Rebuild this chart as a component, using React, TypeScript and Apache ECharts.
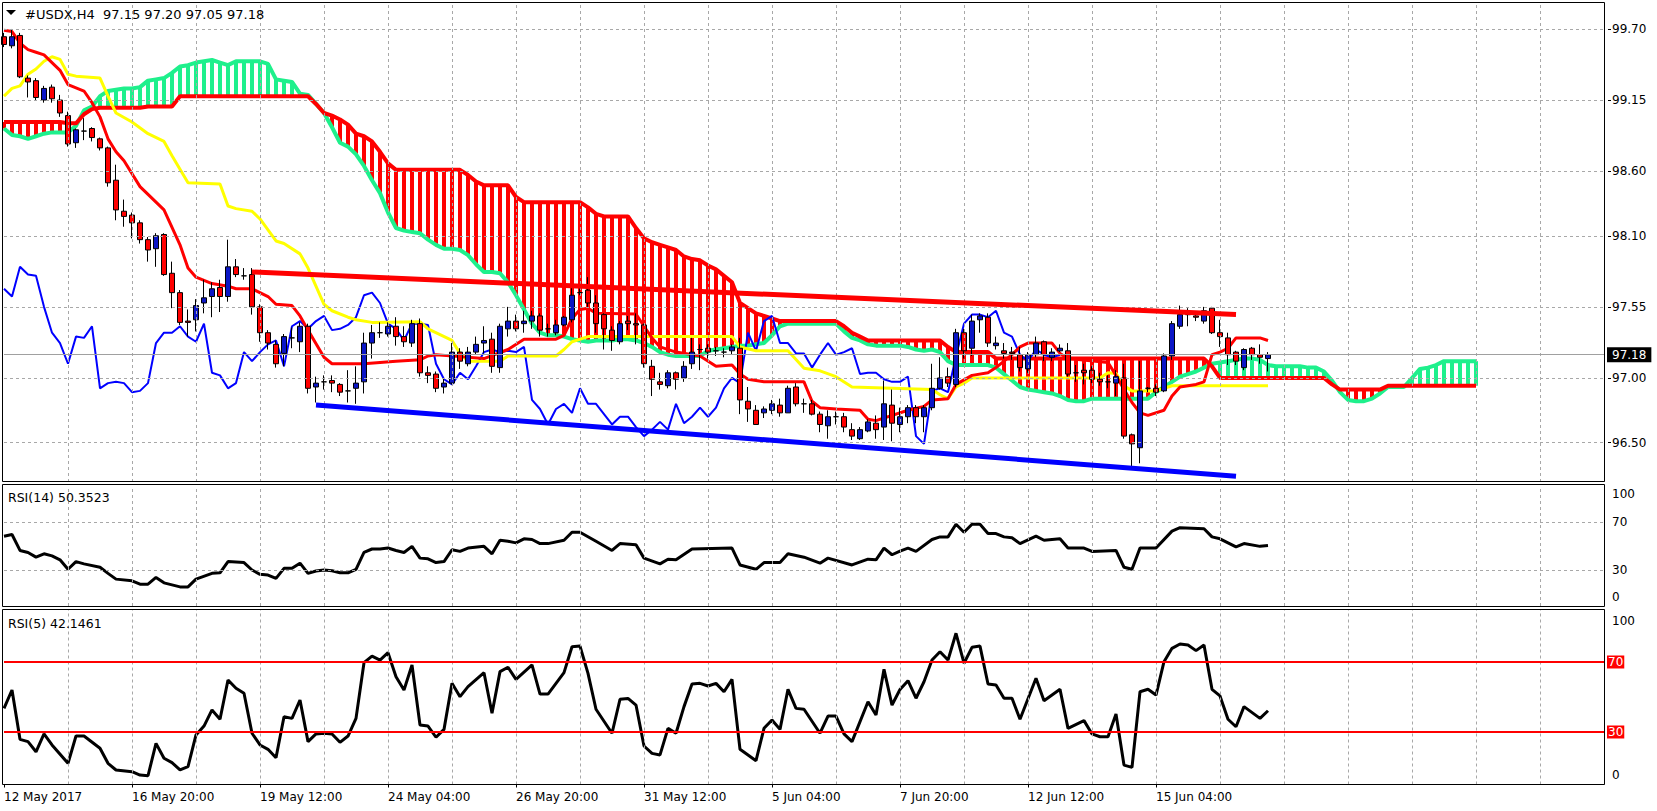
import React, { useEffect, useRef } from 'react';
import * as echarts from 'echarts';

const FONT = 'DejaVu Sans';
const RED = '#ff0000';
const GREEN = '#1ef08c';
const YELLOW = '#ffff00';
const BLUE = '#0000ff';
const CANDLE_UP = '#0b16c6';

const header = '#USDX,H4  97.15 97.20 97.05 97.18';
const rsi14Title = 'RSI(14) 50.3523';
const rsi5Title = 'RSI(5) 42.1461';
const lastPrice = 97.18;

const xTickLabels = ['12 May 2017', '16 May 20:00', '19 May 12:00', '24 May 04:00', '26 May 20:00', '31 May 12:00', '5 Jun 04:00', '7 Jun 20:00', '12 Jun 12:00', '15 Jun 04:00'];
const priceTicks = [99.7, 99.15, 98.6, 98.1, 97.55, 97.0, 96.5];
const rsiLevels = [70, 30];

const opens = [99.64,99.57,99.65,99.32,99.30,99.15,99.25,99.15,99.03,98.82,
 98.91,98.93,98.85,98.78,98.53,98.29,98.26,98.20,98.07,98.00,
 98.11,97.81,97.66,97.44,97.45,97.58,97.63,97.70,97.63,97.86,
 97.79,97.80,97.55,97.35,97.26,97.19,97.31,97.28,97.40,96.93,
 96.97,96.98,96.95,96.90,96.92,96.97,97.27,97.35,97.34,97.40,
 97.32,97.27,97.42,97.04,97.03,96.93,96.96,97.20,97.11,97.20,
 97.27,97.30,97.08,97.38,97.44,97.42,97.44,97.48,97.38,97.35,
 97.41,97.45,97.66,97.68,97.58,97.49,97.37,97.28,97.44,97.42,
 97.41,97.09,96.97,96.94,97.04,97.00,97.11,97.22,97.23,97.21,
 97.20,97.21,97.23,96.82,96.75,96.73,96.75,96.79,96.73,96.93,
 96.80,96.80,96.72,96.63,96.70,96.70,96.60,96.53,96.59,96.65,
 96.62,96.79,96.64,96.70,96.77,96.70,96.77,96.92,97.01,96.95,
 97.35,97.23,97.45,97.47,97.25,97.21,97.20,97.18,97.07,97.18,
 97.28,97.16,97.21,97.21,97.04,97.06,97.06,96.99,96.97,96.96,
 97.00,96.56,96.46,96.92,96.92,96.90,97.17,97.40,97.49,97.48,
 97.44,97.54,97.35,97.31,97.20,97.08,97.23,97.18,97.15];

const closes = [99.58,99.64,99.33,99.29,99.17,99.24,99.16,99.05,98.81,98.92,
 98.91,98.86,98.78,98.51,98.30,98.25,98.20,98.07,97.99,98.10,
 97.80,97.66,97.43,97.43,97.56,97.62,97.69,97.63,97.86,97.80,
 97.79,97.55,97.35,97.27,97.11,97.32,97.31,97.40,96.92,96.96,
 96.97,96.96,96.89,96.90,96.96,97.27,97.35,97.35,97.40,97.32,
 97.28,97.42,97.04,97.02,96.92,96.96,97.20,97.13,97.20,97.26,
 97.29,97.09,97.40,97.44,97.38,97.44,97.48,97.37,97.38,97.41,
 97.47,97.64,97.66,97.58,97.42,97.38,97.29,97.42,97.42,97.41,
 97.11,96.99,96.95,97.04,96.99,97.09,97.20,97.22,97.20,97.21,
 97.20,97.24,96.83,96.76,96.64,96.76,96.80,96.73,96.92,96.80,
 96.80,96.72,96.64,96.70,96.70,96.62,96.55,96.60,96.66,96.60,
 96.80,96.65,96.70,96.77,96.70,96.77,96.92,97.00,96.96,97.35,
 97.21,97.44,97.48,97.27,97.27,97.19,97.19,97.08,97.18,97.27,
 97.18,97.20,97.23,97.03,97.04,97.04,96.99,96.97,96.97,97.01,
 96.55,96.49,96.90,96.92,96.89,97.17,97.42,97.49,97.49,97.47,
 97.52,97.35,97.32,97.18,97.13,97.22,97.18,97.16,97.18];

const lows = [99.56,99.55,99.32,99.17,99.15,99.13,99.13,99.02,98.79,98.78,
 98.84,98.83,98.76,98.48,98.22,98.17,98.08,98.04,97.90,97.86,
 97.79,97.54,97.41,97.32,97.36,97.50,97.47,97.51,97.59,97.78,
 97.76,97.49,97.28,97.22,97.08,97.09,97.23,97.20,96.88,96.81,
 96.91,96.89,96.86,96.81,96.80,96.88,97.15,97.31,97.32,97.25,
 97.24,97.24,97.01,96.96,96.89,96.88,96.95,97.07,97.09,97.18,
 97.19,97.04,97.04,97.32,97.36,97.35,97.38,97.32,97.32,97.33,
 97.40,97.43,97.64,97.55,97.35,97.22,97.21,97.26,97.37,97.26,
 97.08,96.86,96.91,96.92,96.91,96.97,97.07,97.06,97.15,97.17,
 97.16,97.18,96.72,96.66,96.64,96.69,96.72,96.70,96.73,96.78,
 96.73,96.71,96.58,96.53,96.64,96.58,96.52,96.52,96.58,96.53,
 96.52,96.51,96.58,96.65,96.65,96.58,96.75,96.91,96.93,96.93,
 97.15,97.17,97.35,97.24,97.22,97.15,97.14,97.05,97.04,97.16,
 97.13,97.13,97.20,97.01,96.97,96.95,96.96,96.94,96.92,96.86,
 96.53,96.31,96.34,96.89,96.86,96.89,97.14,97.38,97.40,97.44,
 97.42,97.34,97.24,97.10,97.10,97.06,97.14,97.11,97.05];

const highs = [99.67,99.70,99.67,99.34,99.32,99.26,99.27,99.19,99.06,98.93,
 99.01,98.94,98.86,98.79,98.65,98.38,98.28,98.22,98.09,98.12,
 98.12,97.90,97.68,97.53,97.61,97.76,97.74,97.76,98.07,97.92,
 97.85,97.85,97.57,97.37,97.29,97.34,97.39,97.43,97.42,97.01,
 97.02,97.02,96.96,97.06,97.09,97.35,97.41,97.43,97.43,97.47,
 97.40,97.45,97.46,97.09,97.05,97.00,97.27,97.23,97.24,97.32,
 97.40,97.35,97.42,97.55,97.49,97.52,97.52,97.50,97.42,97.45,
 97.48,97.71,97.72,97.78,97.64,97.50,97.40,97.44,97.48,97.50,
 97.42,97.14,97.04,97.06,97.05,97.13,97.31,97.26,97.26,97.24,
 97.23,97.26,97.31,96.93,96.79,96.78,96.83,96.84,96.94,96.96,
 96.84,96.83,96.74,96.75,96.74,96.73,96.65,96.62,96.68,96.71,
 96.98,96.91,96.77,96.79,96.79,96.79,97.11,97.16,97.08,97.38,
 97.38,97.49,97.50,97.50,97.32,97.27,97.24,97.24,97.20,97.32,
 97.29,97.23,97.26,97.27,97.10,97.11,97.09,97.04,97.02,97.06,
 97.11,96.57,97.13,96.93,96.95,97.19,97.44,97.56,97.54,97.50,
 97.55,97.55,97.45,97.35,97.21,97.23,97.24,97.26,97.20];

// Ichimoku cloud lines, one value per bar (bars 0..184)
const spanRed = [98.98,98.98,98.98,98.98,98.98,98.98,98.98,98.98,98.97,98.97,
 99.04,99.08,99.09,99.09,99.09,99.09,99.09,99.09,99.10,99.10,
 99.10,99.10,99.18,99.18,99.18,99.18,99.18,99.18,99.18,99.18,
 99.18,99.18,99.18,99.18,99.18,99.18,99.18,99.18,99.18,99.12,
 99.05,99.03,99.00,98.96,98.89,98.87,98.83,98.75,98.66,98.61,
 98.61,98.61,98.61,98.61,98.61,98.61,98.61,98.61,98.57,98.52,
 98.49,98.49,98.49,98.49,98.40,98.36,98.36,98.36,98.36,98.36,
 98.36,98.36,98.36,98.32,98.27,98.25,98.25,98.25,98.25,98.16,
 98.08,98.05,98.03,98.01,97.99,97.94,97.92,97.91,97.87,97.84,
 97.79,97.74,97.58,97.54,97.50,97.48,97.46,97.44,97.44,97.44,
 97.44,97.44,97.44,97.44,97.44,97.40,97.35,97.32,97.29,97.29,
 97.29,97.29,97.29,97.29,97.29,97.29,97.29,97.29,97.24,97.20,
 97.20,97.20,97.20,97.20,97.15,97.15,97.15,97.15,97.15,97.15,
 97.15,97.15,97.15,97.15,97.15,97.15,97.15,97.15,97.15,97.15,
 97.15,97.15,97.15,97.15,97.15,97.15,97.15,97.15,97.15,97.15,
 97.15,97.09,97.00,97.00,97.00,97.00,97.00,97.00,97.00,97.00,
 97.00,97.00,97.00,97.00,97.00,97.00,96.95,96.91,96.91,96.91,
 96.91,96.91,96.91,96.94,96.94,96.94,96.94,96.94,96.94,96.94,
 96.94,96.94,96.94,96.94,96.94];

const spanGreen = [98.93,98.88,98.87,98.85,98.87,98.89,98.90,98.90,98.90,98.95,
 99.07,99.10,99.18,99.22,99.23,99.24,99.24,99.25,99.30,99.31,
 99.32,99.36,99.41,99.42,99.44,99.45,99.46,99.44,99.42,99.45,
 99.45,99.45,99.45,99.43,99.31,99.30,99.29,99.20,99.19,99.12,
 99.05,98.94,98.82,98.79,98.73,98.64,98.53,98.43,98.28,98.16,
 98.14,98.13,98.12,98.07,98.03,98.00,98.00,97.99,97.95,97.88,
 97.82,97.82,97.81,97.74,97.64,97.53,97.42,97.35,97.33,97.33,
 97.32,97.30,97.29,97.28,97.29,97.29,97.29,97.30,97.30,97.29,
 97.27,97.24,97.20,97.18,97.17,97.17,97.17,97.17,97.21,97.22,
 97.23,97.24,97.25,97.25,97.26,97.27,97.33,97.40,97.42,97.42,
 97.42,97.42,97.42,97.42,97.42,97.36,97.31,97.29,97.26,97.25,
 97.25,97.25,97.25,97.24,97.22,97.21,97.22,97.20,97.13,97.10,
 97.10,97.10,97.10,97.10,97.08,97.03,96.98,96.93,96.91,96.90,
 96.89,96.88,96.86,96.83,96.82,96.82,96.84,96.84,96.84,96.84,
 96.84,96.84,96.84,96.84,96.89,96.93,96.97,97.01,97.03,97.05,
 97.08,97.11,97.12,97.13,97.14,97.15,97.15,97.14,97.10,97.09,
 97.09,97.09,97.09,97.08,97.08,97.05,96.98,96.89,96.83,96.82,
 96.82,96.84,96.88,96.93,96.93,96.93,97.00,97.07,97.08,97.10,
 97.13,97.13,97.13,97.13,97.13];

const tenkan = [[0,99.69],[1,99.68],[2,99.59],[3,99.54],[4,99.52],[5,99.50],[7,99.38],[8,99.27],[10,99.22],[11,99.13],
 [12,99.02],[13,98.85],[14,98.75],[15,98.68],[17,98.48],[20,98.30],[22,98.03],[23,97.85],[24,97.78],[26,97.73],
 [28,97.71],[29,97.69],[31,97.69],[33,97.63],[34,97.57],[36,97.56],[37,97.48],[38,97.37],[40,97.16],[41,97.11],
 [45,97.11],[49,97.13],[52,97.14],[53,97.17],[54,97.18],[57,97.165],[60,97.15],[63,97.22],[65,97.30],[69,97.30],
 [70,97.33],[71,97.46],[72,97.53],[73,97.54],[74,97.50],[79,97.495],[80,97.40],[81,97.31],[82,97.24],[84,97.20],
 [87,97.17],[89,97.09],[91,97.10],[92,97.03],[93,96.99],[95,96.97],[100,96.97],[101,96.82],[102,96.77],[104,96.76],
 [107,96.75],[108,96.68],[109,96.67],[113,96.75],[115,96.78],[116,96.83],[118,96.84],[119,96.95],[121,97.02],[123,97.04],
 [124,97.08],[126,97.18],[127,97.24],[128,97.27],[131,97.27],[132,97.19],[133,97.15],[138,97.12],[139,97.02],[140,96.91],
 [141,96.81],[142,96.73],[143,96.71],[145,96.75],[146,96.86],[147,96.93],[149,96.95],[150,96.97],[151,97.18],[152,97.20],
 [153,97.23],[154,97.31],[157,97.31],[158,97.29]];

const kijun = [[0,99.18],[1,99.24],[2,99.26],[3,99.35],[4,99.39],[5,99.45],[6,99.485],[7,99.465],[8,99.35],[9,99.335],
 [12,99.32],[13,99.18],[14,99.05],[16,98.98],[18,98.89],[20,98.83],[21,98.72],[23,98.51],[27,98.50],[28,98.33],
 [29,98.31],[31,98.29],[32,98.23],[34,98.06],[35,98.04],[37,97.96],[38,97.85],[40,97.57],[41,97.52],[43,97.47],
 [44,97.45],[46,97.43],[52,97.435],[53,97.38],[56,97.29],[57,97.19],[58,97.13],[62,97.13],[63,97.17],[69,97.17],
 [70,97.22],[71,97.28],[73,97.32],[91,97.32],[92,97.24],[94,97.21],[98,97.21],[100,97.075],[102,97.055],[104,97.01],
 [106,96.93],[116,96.91],[117,96.87],[118,96.84],[119,96.93],[120,96.96],[121,97.00],[137,97.00],[138,97.04],[139,97.035],
 [140,96.94],[141,96.90],[144,96.90],[146,96.94],[158,96.94]];

const chikouShift = 26;
const resistanceLine = [[31, 97.82], [154, 97.49]];
const supportLine = [[39, 96.79], [154, 96.24]];

const rsi14 = [[0,58.2],[1,59.6],[2,46.3],[3,44.6],[4,40.7],[5,43.5],[6,41.8],[7,38.5],[8,30.6],[9,37.0],
 [10,35.1],[12,32.3],[13,27.2],[14,22.4],[16,21.0],[17,18.2],[18,18.2],[19,23.8],[20,19.3],[22,15.9],
 [23,15.9],[24,22.4],[26,27.2],[27,27.7],[28,37.0],[30,36.2],[31,30.0],[32,26.4],[33,25.8],[34,23.0],
 [35,31.4],[36,31.4],[37,35.7],[38,27.2],[39,29.2],[40,30.0],[41,29.4],[42,27.7],[43,27.7],[44,30.6],
 [45,44.6],[46,47.5],[47,47.5],[48,48.3],[49,46.3],[50,44.6],[51,49.7],[52,39.9],[53,39.3],[54,36.2],
 [55,37.0],[56,46.9],[57,45.5],[58,48.3],[60,49.7],[61,43.5],[62,54.8],[63,53.9],[64,52.6],[65,56.0],
 [66,55.4],[67,52.0],[68,52.0],[70,54.8],[71,61.5],[72,61.5],[74,53.9],[76,46.3],[77,52.0],[79,51.1],
 [80,39.9],[82,35.1],[83,39.0],[84,38.5],[86,47.5],[91,48.3],[92,34.2],[94,30.6],[95,36.2],[97,36.2],
 [98,43.5],[100,40.7],[102,35.7],[103,39.9],[106,34.2],[108,39.0],[109,38.5],[110,48.3],[111,42.7],[112,45.8],
 [113,48.3],[114,45.5],[116,55.4],[117,57.6],[118,57.6],[119,68.1],[120,61.5],[121,68.1],[122,68.1],[123,60.4],
 [124,60.4],[125,57.6],[126,56.8],[127,52.0],[129,58.2],[130,54.8],[132,56.0],[133,48.3],[135,48.3],[136,45.5],
 [139,46.3],[140,32.3],[141,30.6],[142,48.3],[144,48.3],[146,62.4],[147,65.3],[150,64.4],[151,57.6],[152,56.0],
 [154,49.2],[155,52.0],[157,49.7],[158,50.35]];

const rsi5 = [[0,43.5],[1,54.0],[2,25.8],[3,24.5],[4,18.7],[5,28.9],[6,22.6],[8,12.1],[9,27.7],[10,27.7],
 [12,20.7],[13,12.1],[14,8.3],[16,7.3],[17,5.4],[18,5.0],[19,23.5],[20,15.0],[21,12.5],[22,8.3],
 [23,10.2],[24,28.3],[25,33.4],[26,42.6],[27,37.3],[28,59.7],[29,55.0],[30,52.1],[31,29.3],[32,22.6],
 [33,20.1],[34,15.3],[35,38.7],[36,37.8],[37,48.3],[38,24.5],[39,28.9],[40,29.3],[41,28.9],[42,24.1],
 [43,27.7],[44,37.8],[45,69.6],[46,73.4],[47,71.1],[48,75.3],[49,61.6],[50,54.0],[51,68.3],[52,34.0],
 [53,33.4],[54,27.0],[55,31.5],[56,57.8],[57,50.2],[58,55.9],[60,63.9],[61,40.7],[62,64.5],[63,67.0],
 [64,60.1],[66,68.3],[67,51.7],[68,51.7],[70,63.9],[71,78.7],[72,79.1],[73,63.5],[74,43.0],[76,29.3],
 [77,48.7],[78,49.2],[79,45.4],[80,22.0],[81,17.8],[82,16.9],[83,32.1],[84,29.3],[85,44.5],[86,57.4],
 [87,57.8],[88,56.3],[89,57.8],[90,53.0],[91,60.1],[92,20.1],[94,13.6],[95,32.1],[96,36.9],[97,31.5],
 [98,54.4],[99,43.5],[100,43.0],[102,29.3],[103,39.1],[104,39.1],[105,28.9],[106,24.5],[108,47.3],[109,39.7],
 [110,65.8],[111,45.4],[112,54.3],[113,59.3],[114,49.3],[115,58.7],[116,71.1],[117,75.9],[118,71.1],[119,86.4],
 [120,69.3],[121,78.4],[122,79.1],[123,57.4],[124,56.9],[125,49.3],[126,49.3],[127,37.3],[129,60.7],[130,47.9],
 [132,54.4],[133,32.1],[135,36.5],[136,28.9],[137,27.3],[138,27.3],[139,40.3],[140,11.1],[141,9.8],[142,53.0],
 [143,54.4],[144,51.1],[145,70.2],[146,77.8],[147,80.3],[148,79.7],[149,76.5],[150,79.7],[151,54.4],[152,50.6],
 [153,37.3],[154,33.0],[155,44.5],[157,37.8],[158,42.15]];

// layout helpers (not data)
const SLOT_COUNT = 201;
const slots = Array.from({ length: SLOT_COUNT }, (_, i) => String(i));
const LABEL_EVERY = 16;
const GRID_EVERY = 8;
const vGrid = slots.filter((s, i) => i > 0 && i % GRID_EVERY === 0);
const LAST_SLOT = slots[SLOT_COUNT - 1];

const txt = { fontFamily: FONT, fontSize: 12, color: '#000' };
const dash = { color: '#a8a8a8', type: [3, 3], width: 1 };
const hPair = (v: number, extra: any = {}) => [{ coord: ['0', v], ...extra }, { coord: [LAST_SLOT, v] }];

function buildOption(): any {
  const xBase = (k: number) => ({
    type: 'category', gridIndex: k, data: slots, boundaryGap: true,
    axisLine: { show: false }, axisTick: { show: false }, axisLabel: { show: false }, splitLine: { show: false },
  });
  const xBottom = {
    ...xBase(2),
    axisTick: {
      show: true, alignWithLabel: true, length: 3, lineStyle: { color: '#000' },
      interval: (i: number) => i % LABEL_EVERY === 0 && i / LABEL_EVERY < xTickLabels.length,
    },
    axisLabel: {
      show: true, ...txt, align: 'left', margin: 6,
      interval: (i: number) => i % LABEL_EVERY === 0 && i / LABEL_EVERY < xTickLabels.length,
      formatter: (_v: string, i: number) => xTickLabels[i / LABEL_EVERY] ?? '',
    },
  };
  const yCommon = { type: 'value', position: 'right', splitLine: { show: false }, axisLine: { show: false } };
  const helper = (k: number, lines: any[], z: number, extra: any = {}) => ({
    type: 'line', xAxisIndex: k, yAxisIndex: k, data: [], z, silent: true,
    markLine: { symbol: ['none', 'none'], silent: true, label: { show: false }, lineStyle: dash, data: lines, ...extra },
  });

  return {
    animation: false,
    backgroundColor: '#ffffff',
    grid: [
      { left: 0, top: 3, width: 1608, height: 479 },
      { left: 0, top: 486, width: 1608, height: 120 },
      { left: 0, top: 609.5, width: 1608, height: 175 },
    ],
    xAxis: [xBase(0), xBase(1), xBottom],
    yAxis: [
      {
        ...yCommon, gridIndex: 0, min: 96.195, max: 99.901,
        axisTick: { show: true, customValues: priceTicks, length: 3, lineStyle: { color: '#000' } },
        axisLabel: { ...txt, margin: 4, customValues: priceTicks, formatter: (v: number) => v.toFixed(2) },
      },
      {
        ...yCommon, gridIndex: 1, min: 0, max: 100,
        axisTick: { show: false },
        axisLabel: {
          ...txt, margin: 4, customValues: [0, 30, 70, 100],
          formatter: (v: number) => (v === 100 ? '{t|100}' : v === 0 ? '{b|0}' : String(v)),
          rich: { t: { ...txt, padding: [15, 0, 0, 0] }, b: { ...txt, padding: [0, 0, 18, 0] } },
        },
      },
      {
        ...yCommon, gridIndex: 2, min: 0, max: 100,
        axisTick: { show: false },
        axisLabel: {
          ...txt, margin: 4, customValues: [0, 100],
          formatter: (v: number) => (v === 100 ? '{t|100}' : '{b|0}'),
          rich: { t: { ...txt, padding: [23, 0, 0, 0] }, b: { ...txt, padding: [0, 0, 20, 0] } },
        },
      },
    ],
    graphic: [
      { type: 'rect', z: 100, silent: true, shape: { x: 2.5, y: 2.5, width: 1602, height: 479 }, style: { fill: 'none', stroke: '#000', lineWidth: 1 } },
      { type: 'rect', z: 100, silent: true, shape: { x: 2.5, y: 484.5, width: 1602, height: 122 }, style: { fill: 'none', stroke: '#000', lineWidth: 1 } },
      { type: 'rect', z: 100, silent: true, shape: { x: 2.5, y: 609.5, width: 1602, height: 175 }, style: { fill: 'none', stroke: '#000', lineWidth: 1 } },
      { type: 'polygon', z: 100, silent: true, shape: { points: [[6, 10], [16, 10], [11, 15]] }, style: { fill: '#000' } },
      { type: 'text', z: 100, silent: true, x: 25, y: 14, style: { text: header, fontFamily: FONT, fontSize: 13, fill: '#000', verticalAlign: 'middle' } },
      { type: 'text', z: 100, silent: true, x: 8, y: 497, style: { text: rsi14Title, fontFamily: FONT, fontSize: 12.5, fill: '#000', verticalAlign: 'middle' } },
      { type: 'text', z: 100, silent: true, x: 8, y: 623, style: { text: rsi5Title, fontFamily: FONT, fontSize: 12.5, fill: '#000', verticalAlign: 'middle' } },
    ],
    series: [
      // grid lines
      helper(0, [...priceTicks.map((v) => hPair(v)), ...vGrid.map((c) => ({ xAxis: c }))], 0),
      helper(1, [...rsiLevels.map((v) => hPair(v)), ...vGrid.map((c) => ({ xAxis: c }))], 0),
      helper(2, vGrid.map((c) => ({ xAxis: c })), 0),
      // current price line
      helper(0, [hPair(lastPrice)], 1, {
        lineStyle: { color: '#a0a0a0', type: 'solid', width: 1 },
        label: {
          show: true, position: 'end', distance: 3, formatter: lastPrice.toFixed(2),
          fontFamily: FONT, fontSize: 12, color: '#fff', backgroundColor: '#000', padding: [2, 5, 1, 5],
        },
      }),
      // RSI(5) levels
      helper(2, rsiLevels.map((v) => hPair(v, { name: String(v) })), 3, {
        lineStyle: { color: RED, type: 'solid', width: 2 },
        label: {
          show: true, position: 'end', distance: 3, formatter: (p: any) => p.name,
          fontFamily: FONT, fontSize: 12, color: '#fff', backgroundColor: RED, padding: [1, 1, 0, 1],
        },
      }),
      // cloud hatch
      {
        type: 'custom', xAxisIndex: 0, yAxisIndex: 0, z: 1, silent: true,
        data: spanRed.map((a, i) => [i, a, spanGreen[i]]),
        encode: { x: 0, y: [1, 2] },
        renderItem: (_p: any, api: any) => {
          const i = api.value(0);
          const a = api.value(1);
          const b = api.value(2);
          const pa = api.coord([i, a]);
          const pb = api.coord([i, b]);
          return {
            type: 'rect',
            shape: { x: pa[0] - 2, y: Math.min(pa[1], pb[1]), width: 4, height: Math.abs(pa[1] - pb[1]) },
            style: { fill: a >= b ? RED : GREEN },
          };
        },
      },
      { type: 'line', xAxisIndex: 0, yAxisIndex: 0, z: 2, data: spanGreen, showSymbol: false, silent: true, lineStyle: { color: GREEN, width: 4 } },
      { type: 'line', xAxisIndex: 0, yAxisIndex: 0, z: 2, data: spanRed, showSymbol: false, silent: true, lineStyle: { color: RED, width: 4 } },
      { type: 'line', xAxisIndex: 0, yAxisIndex: 0, z: 3, data: closes.slice(chikouShift).map((c, i) => [i, c]), showSymbol: false, silent: true, lineStyle: { color: BLUE, width: 2 } },
      { type: 'line', xAxisIndex: 0, yAxisIndex: 0, z: 3, data: kijun, showSymbol: false, silent: true, lineStyle: { color: YELLOW, width: 3 } },
      { type: 'line', xAxisIndex: 0, yAxisIndex: 0, z: 3, data: tenkan, showSymbol: false, silent: true, lineStyle: { color: RED, width: 3 } },
      {
        type: 'candlestick', xAxisIndex: 0, yAxisIndex: 0, z: 4, silent: true, barWidth: 5,
        data: opens.map((o, i) => [o, closes[i], lows[i], highs[i]]),
        itemStyle: { color: CANDLE_UP, color0: RED, borderColor: '#000', borderColor0: '#000', borderColorDoji: '#000', borderWidth: 1 },
      },
      { type: 'line', xAxisIndex: 0, yAxisIndex: 0, z: 5, data: resistanceLine, showSymbol: false, silent: true, lineStyle: { color: RED, width: 5 } },
      { type: 'line', xAxisIndex: 0, yAxisIndex: 0, z: 5, data: supportLine, showSymbol: false, silent: true, lineStyle: { color: BLUE, width: 5 } },
      { type: 'line', xAxisIndex: 1, yAxisIndex: 1, z: 3, data: rsi14, showSymbol: false, silent: true, lineStyle: { color: '#000', width: 3 } },
      { type: 'line', xAxisIndex: 2, yAxisIndex: 2, z: 4, data: rsi5, showSymbol: false, silent: true, lineStyle: { color: '#000', width: 3 } },
    ],
  };
}

export default function App() {
  const ref = useRef<HTMLDivElement>(null);
  useEffect(() => {
    document.body.style.margin = '0';
    const chart = echarts.init(ref.current as HTMLDivElement, null, { renderer: 'svg' });
    chart.setOption(buildOption());
    return () => chart.dispose();
  }, []);
  return <div ref={ref} style={{ width: 1657, height: 811, background: '#fff' }} />;
}
